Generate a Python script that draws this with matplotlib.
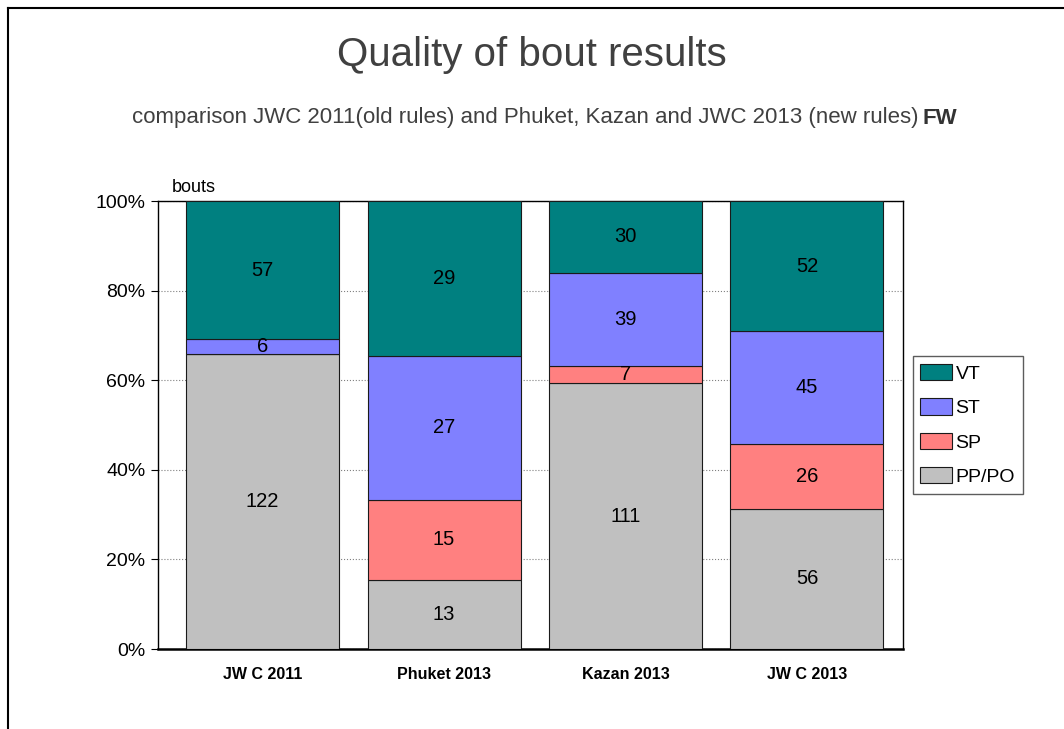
import numpy as np
import matplotlib.pyplot as plt
from matplotlib.lines import Line2D

plt.rcParams['font.family'] = ['Liberation Sans', 'DejaVu Sans']

events = ["JW C 2011", "Phuket 2013", "Kazan 2013", "JW C 2013"]
pp_po = [122, 13, 111, 56]
sp = [0, 15, 7, 26]
st = [6, 27, 39, 45]
vt = [57, 29, 30, 52]

series = [("PP/PO", pp_po, "#C0C0C0"),
          ("SP", sp, "#FF8080"),
          ("ST", st, "#8080FF"),
          ("VT", vt, "#008080")]

totals = np.array(pp_po) + np.array(sp) + np.array(st) + np.array(vt)

W, H = 1064, 729
fig = plt.figure(figsize=(W / 100, H / 100), dpi=100)
ax = fig.add_axes([158 / W, 1 - 649 / H, (903 - 158) / W, (649 - 201) / H])

x = np.arange(len(events))
bottom = np.zeros(len(events))
handles = []
for name, vals, color in series:
    pct = np.array(vals) / totals * 100
    ax.bar(x, pct, width=0.843, bottom=bottom, color=color,
           edgecolor="#1a1a1a", linewidth=0.8, zorder=3)
    for i, (v, p) in enumerate(zip(vals, pct)):
        if v > 0:
            ax.text(x[i], bottom[i] + p / 2, str(v), ha="center", va="center",
                    fontsize=14.5, color="black", zorder=4)
    bottom += pct
    handles.append(plt.Rectangle((0, 0), 1, 1, facecolor=color, edgecolor="#1a1a1a", linewidth=0.8))

ax.set_xlim(-0.576, 3.529)
ax.set_ylim(0, 100)
ax.set_yticks([0, 20, 40, 60, 80, 100])
ax.set_yticklabels(["0%", "20%", "40%", "60%", "80%", "100%"], fontsize=14)
ax.set_xticks(x)
ax.set_xticklabels(events, fontsize=11.5, fontweight="bold")
ax.tick_params(axis="x", length=0, pad=13)
ax.tick_params(axis="y", length=5, direction="out", pad=4)
ax.yaxis.grid(True, linestyle=":", color="#808080", linewidth=0.8, zorder=0)
for s in ax.spines.values():
    s.set_linewidth(1.0)
    s.set_color("black")
ax.spines["bottom"].set_linewidth(1.8)

ax.text(0.019, 1.012, "bouts", transform=ax.transAxes, fontsize=13, ha="left", va="bottom")

leg = ax.legend(handles[::-1], [s[0] for s in series][::-1], loc="center left",
                bbox_to_anchor=(1.013, 0.5), fontsize=14, frameon=True, fancybox=False,
                edgecolor="#333333", handlelength=1.6, handleheight=0.9, handletextpad=0.2,
                labelspacing=0.8, borderpad=0.4, borderaxespad=0)
leg.get_frame().set_linewidth(1.0)

fig.text(0.5, 1 - 55 / H, "Quality of bout results", ha="center", va="center",
         fontsize=29, color="#404040")

# subtitle: grey part then bold "FW" right after it, whole line centred
renderer = fig.canvas.get_renderer()
sub = fig.text(0, 1 - 118 / H,
               "comparison JWC 2011(old rules) and Phuket, Kazan and JWC 2013 (new rules)",
               ha="left", va="center", fontsize=16, color="#404040")
fw = fig.text(0, 1 - 118 / H, "FW", ha="left", va="center", fontsize=16,
              fontweight="bold", color="#333333")
w_sub = sub.get_window_extent(renderer).width
w_fw = fw.get_window_extent(renderer).width
start = 545 - (w_sub + 4 + w_fw) / 2
sub.set_x(start / W)
fw.set_x((start + w_sub + 4) / W)

# outer chart frame (left and top edges visible)
fig.add_artist(Line2D([8 / W, 8 / W], [0, 1 - 8 / H], transform=fig.transFigure,
                      color="black", linewidth=1.5))
fig.add_artist(Line2D([8 / W, 1], [1 - 8 / H, 1 - 8 / H], transform=fig.transFigure,
                      color="black", linewidth=1.5))

fig.savefig("out.png", dpi=100)
